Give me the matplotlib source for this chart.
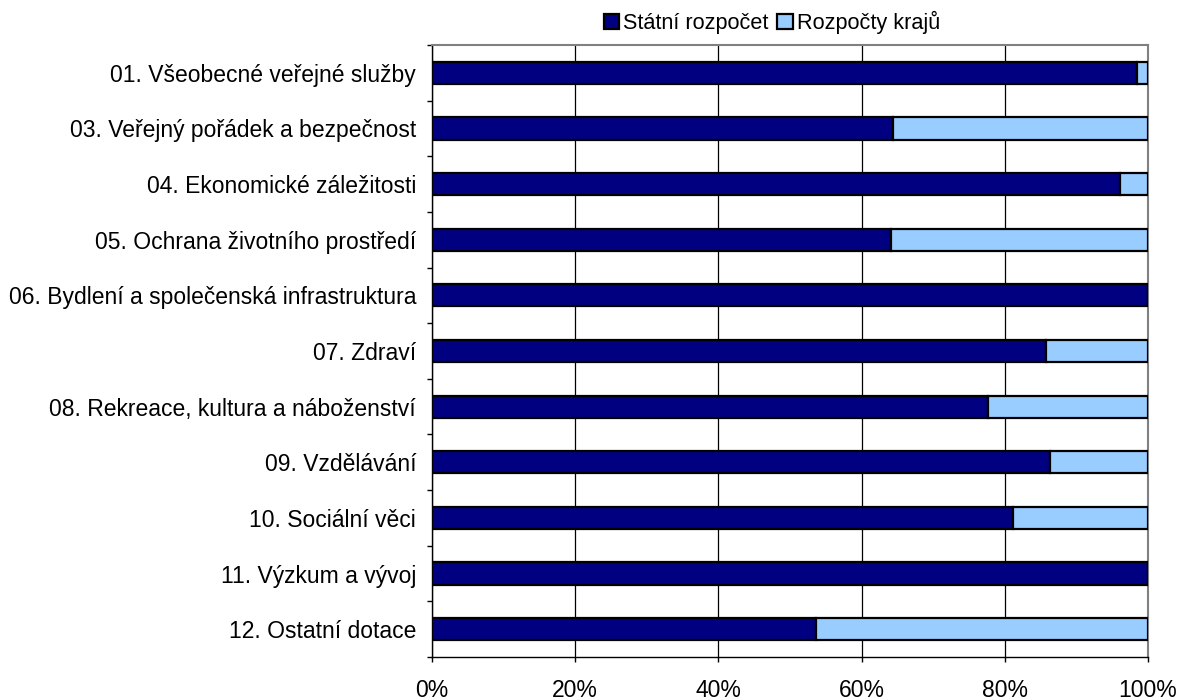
import matplotlib.pyplot as plt
import numpy as np
from matplotlib.ticker import FixedLocator, PercentFormatter

plt.rcParams['font.family'] = ['Liberation Sans', 'DejaVu Sans']

categories = [
    '01. Všeobecné veřejné služby',
    '03. Veřejný pořádek a bezpečnost',
    '04. Ekonomické záležitosti',
    '05. Ochrana životního prostředí',
    '06. Bydlení a společenská infrastruktura',
    '07. Zdraví',
    '08. Rekreace, kultura a náboženství',
    '09. Vzdělávání',
    '10. Sociální věci',
    '11. Výzkum a vývoj',
    '12. Ostatní dotace',
]
statni = [98.5, 64.4, 96.1, 64.1, 100.0, 85.7, 77.6, 86.3, 81.1, 100.0, 53.7]
kraje = [100 - v for v in statni]

fig = plt.figure(figsize=(11.79, 7.0), dpi=100)
ax = fig.add_axes([432 / 1179, 43 / 700, 716 / 1179, 612 / 700])

y = np.arange(len(categories))
ax.barh(y, statni, height=0.4, color='#000080', edgecolor='black', linewidth=1.6,
        label='Státní rozpočet', zorder=3)
ax.barh(y, kraje, left=statni, height=0.4, color='#99CCFF', edgecolor='black',
        linewidth=1.6, label='Rozpočty krajů', zorder=3)

ax.set_xlim(0, 100)
ax.set_ylim(len(categories) - 0.5, -0.5)
ax.set_yticks(y)
ax.set_yticklabels(categories, fontsize=16.5)
ax.yaxis.set_minor_locator(FixedLocator(np.arange(-0.5, len(categories), 1)))
ax.tick_params(axis='y', which='major', length=0, pad=11.5)
ax.tick_params(axis='y', which='minor', length=3.6, width=1, color='black')

ax.set_xticks(np.arange(0, 101, 20))
ax.xaxis.set_major_formatter(PercentFormatter(decimals=0))
ax.tick_params(axis='x', which='major', length=3.6, width=1, labelsize=16.5, pad=12)
ax.grid(axis='x', color='black', linewidth=0.9, zorder=0)

ax.spines['top'].set_color('#808080')
ax.spines['right'].set_color('#808080')
ax.spines['top'].set_linewidth(1.5)
ax.spines['right'].set_linewidth(1.5)
ax.spines['left'].set_linewidth(1.0)
ax.spines['bottom'].set_linewidth(1.0)

ax.legend(loc='lower center', bbox_to_anchor=(0.475, 1.0), ncol=2, frameon=False,
          fontsize=15.6, handlelength=0.7, handleheight=0.7, handletextpad=0.2,
          columnspacing=0.4, borderaxespad=0.1)

fig.savefig('out.png', dpi=100)
